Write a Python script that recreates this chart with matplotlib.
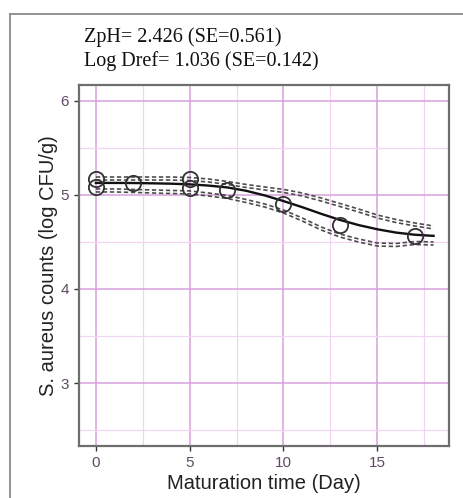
import matplotlib
matplotlib.use("Agg")
import matplotlib.pyplot as plt
from matplotlib.lines import Line2D

plt.rcParams["font.family"] = ["Liberation Sans", "DejaVu Sans"]

# observed counts (log CFU/g)
obs_day = [0, 0, 2, 5, 5, 7, 10, 13, 17]
obs_count = [5.175, 5.09, 5.13, 5.17, 5.075, 5.053, 4.90, 4.68, 4.565]

# fitted curve and bands read at each day
fit_day = list(range(19))
fit_mean = [5.128, 5.128, 5.127, 5.124, 5.120, 5.113, 5.100, 5.080, 5.045, 4.995,
            4.935, 4.870, 4.800, 4.735, 4.680, 4.635, 4.600, 4.577, 4.565]
upper_outer = [5.191, 5.191, 5.191, 5.191, 5.191, 5.186, 5.170, 5.144, 5.112, 5.085,
               5.059, 5.021, 4.968, 4.910, 4.851, 4.787, 4.739, 4.702, 4.670]
upper_inner = [5.159, 5.159, 5.159, 5.159, 5.159, 5.154, 5.138, 5.112, 5.080, 5.053,
               5.027, 4.989, 4.936, 4.878, 4.819, 4.755, 4.707, 4.670, 4.638]
lower_inner = [5.064, 5.064, 5.059, 5.053, 5.048, 5.043, 5.021, 4.995, 4.952, 4.904,
               4.840, 4.755, 4.660, 4.585, 4.532, 4.489, 4.484, 4.505, 4.500]
lower_outer = [5.032, 5.032, 5.027, 5.021, 5.016, 5.011, 4.989, 4.963, 4.920, 4.872,
               4.808, 4.723, 4.628, 4.553, 4.500, 4.457, 4.452, 4.473, 4.468]

title_lines = ["ZpH= 2.426 (SE=0.561)", "Log Dref= 1.036 (SE=0.142)"]

fig = plt.figure(figsize=(4.64, 4.98), dpi=100)
ax = fig.add_axes([0.170, 0.1044, 0.798, 0.725])

# outer frame of the panel
fig.add_artist(Line2D([0.0216, 0.0216], [0.0, 0.972], color="#8a8a8a", lw=1.3))
fig.add_artist(Line2D([0.0216, 1.0], [0.972, 0.972], color="#8a8a8a", lw=1.3))

ax.set_xlim(-0.907, 18.83)
ax.set_ylim(2.33, 6.17)
ax.set_xticks([0, 5, 10, 15])
ax.set_yticks([3, 4, 5, 6])
ax.set_xticks([2.5, 7.5, 12.5, 17.5], minor=True)
ax.set_yticks([2.5, 3.5, 4.5, 5.5], minor=True)
ax.tick_params(which="minor", length=0)
ax.tick_params(which="major", length=3.5, width=1, color="#333333",
               labelcolor="#5e4a62", labelsize=11)
ax.grid(which="major", color="#d9a0dc", lw=1.1)
ax.grid(which="minor", color="#f2d4f4", lw=0.9)
ax.set_axisbelow(True)
for s in ax.spines.values():
    s.set_color("#6e6e6e")
    s.set_linewidth(1.6)

for band in [upper_outer, upper_inner, lower_inner, lower_outer]:
    ax.plot(fit_day, band, color="#4d4d4d", lw=1.2, ls=(0, (2.6, 1.6)))
ax.plot(fit_day, fit_mean, color="#111111", lw=1.7)
ax.plot(obs_day, obs_count, ls="none", marker="o", ms=11, mfc="none",
        mec="#333333", mew=1.3)

ax.set_xlabel("Maturation time (Day)", fontsize=14.5, color="#222222", labelpad=3)
ax.set_ylabel("S. aureus counts (log CFU/g)", fontsize=14.5, color="#222222", labelpad=2)

for i, t in enumerate(title_lines):
    fig.text(0.181, 0.926 - i * 0.048, t, fontsize=14.5, family="Liberation Serif",
             color="#111111", va="center", ha="left")

fig.savefig("out.png", dpi=100)
